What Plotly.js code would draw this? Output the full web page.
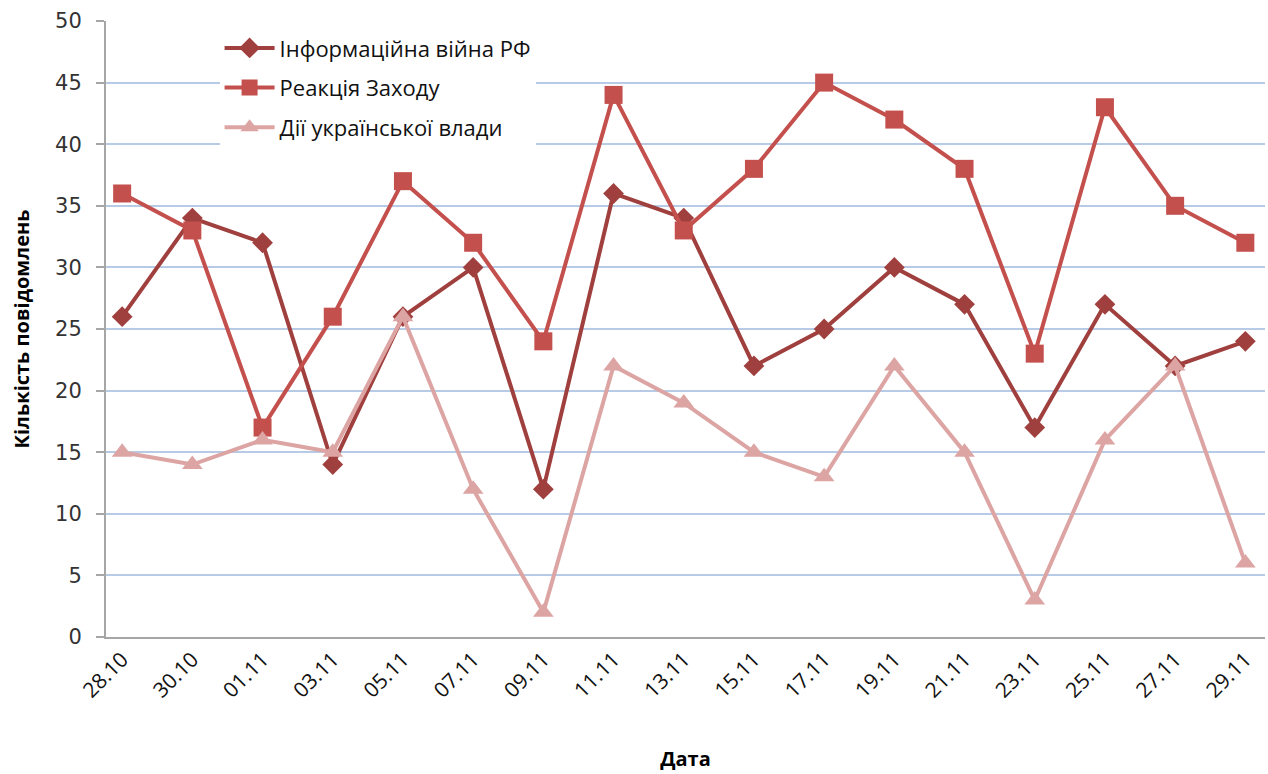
<!DOCTYPE html>
<html>
<head>
<meta charset="utf-8">
<script src="https://cdn.plot.ly/plotly-3.0.1.min.js"></script>
<style>
  body { margin: 0; background: #fff; }
  #chart { width: 1268px; height: 774px; }
</style>
</head>
<body>
<div id="chart"></div>
<script>
var dates = ["28.10", "30.10", "01.11", "03.11", "05.11", "07.11", "09.11", "11.11", "13.11",
    "15.11", "17.11", "19.11", "21.11", "23.11", "25.11", "27.11", "29.11"];

var infoWar = [26, 34, 32, 14, 26, 30, 12, 36, 34, 22, 25, 30, 27, 17, 27, 22, 24];
var westReaction = [36, 33, 17, 26, 37, 32, 24, 44, 33, 38, 45, 42, 38, 23, 43, 35, 32];
var ukrGov = [15, 14, 16, 15, 26, 12, 2, 22, 19, 15, 13, 22, 15, 3, 16, 22, 6];

var idx = Array.from(Array(dates.length), (v, k) => k);

function series(name, y, color, symbol, size) {
    return {
        x: idx,
        y: y,
        type: 'scatter',
        mode: 'lines+markers',
        name: name,
        legendgroup: name,
        line: { color: color, width: 4 },
        marker: { color: color, symbol: symbol, size: size }
    };
}

var data = [
    series("Інформаційна війна РФ", infoWar, "#A0403E", "diamond", 16),
    series("Реакція Заходу", westReaction, "#C4504D", "square", 18),
    series("Дії української влади", ukrGov, "#DCA5A4", "triangle-up", 18)
];

var layout = {
    width: 1268,
    height: 774,
    margin: { l: 106, r: 3, t: 21, b: 137 },
    paper_bgcolor: '#fff',
    plot_bgcolor: '#fff',
    font: { family: 'Open Sans, Noto Sans, sans-serif', color: '#222' },
    showlegend: true,
    legend: {
        x: 0.098, y: 0.99, xanchor: 'left', yanchor: 'top',
        bgcolor: '#fff',
        font: { size: 22, color: '#111' },
        traceorder: 'grouped',
        tracegroupgap: 8,
        itemwidth: 50
    },
    xaxis: {
        range: [-0.23, 16.28],
        tickvals: idx,
        ticktext: dates,
        tickangle: -45,
        tickfont: { size: 21, color: '#111' },
        showgrid: false,
        zeroline: false,
        showline: true,
        linecolor: '#A6A6A6',
        linewidth: 2,
        ticks: '',
        title: { text: 'Дата', font: { size: 20, color: '#000', family: 'Open Sans, sans-serif', weight: 'bold' }, standoff: 50 }
    },
    yaxis: {
        range: [0, 50],
        dtick: 5,
        tickfont: { size: 21, color: '#333', family: 'DejaVu Sans, sans-serif' },
        ticklabelstandoff: 10,
        showgrid: true,
        gridcolor: '#B7CBE6',
        gridwidth: 2,
        zeroline: false,
        showline: true,
        linecolor: '#A6A6A6',
        linewidth: 2,
        ticks: 'outside',
        ticklen: 8,
        tickcolor: '#A6A6A6',
        tickwidth: 2,
        title: { text: 'Кількість повідомлень', font: { size: 20, color: '#000', family: 'Open Sans, sans-serif', weight: 'bold' }, standoff: 20 }
    }
};

Plotly.newPlot('chart', data, layout, { displayModeBar: false });
</script>
</body>
</html>
